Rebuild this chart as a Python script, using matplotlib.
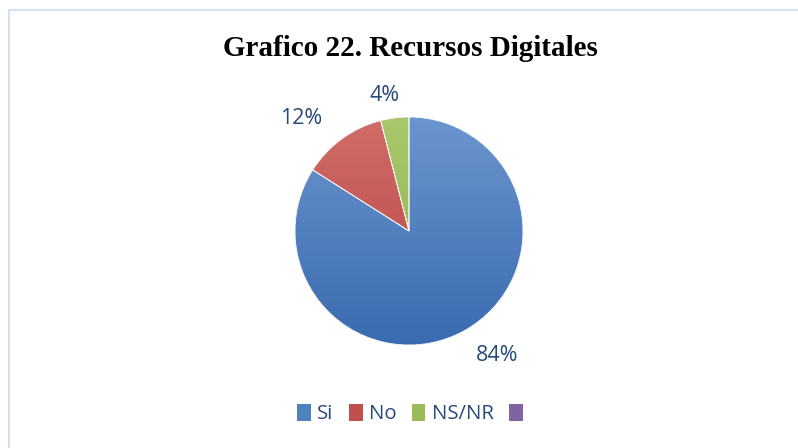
import numpy as np
import matplotlib
matplotlib.use("Agg")
import matplotlib.pyplot as plt
from matplotlib.colors import to_rgb
from matplotlib.patches import Rectangle, Patch, Wedge

# Data
categories = ["Si", "No", "NS/NR", ""]
percentages = [84, 12, 4, 0]
value_labels = ["84%", "12%", "4%"]

# Styling
base_colors = ["#4f81bd", "#c0504d", "#9bbb59", "#8064a2"]
top_colors = ["#6b95ce", "#d06d6a", "#a9c86d", "#9580b6"]
bottom_colors = ["#3a6bb0", "#b8423f", "#8fb04c", "#72569a"]
label_color = "#264a7a"
label_pos = [(0.77, -1.09), (-0.95, 0.99), (-0.21, 1.19)]

W, H, DPI = 798, 448, 100
fig = plt.figure(figsize=(W / DPI, H / DPI), dpi=DPI)
fig.patch.set_facecolor("white")

# chart-area frame
frame = Rectangle((8.5 / W, -0.1), 1.2, 1 - 10.5 / H + 0.1, transform=fig.transFigure,
                  fill=False, edgecolor="#d5e1f0", linewidth=1.5)
fig.add_artist(frame)

fig.text(410 / W, 1 - 49 / H, "Grafico 22. Recursos Digitales",
         ha="center", va="center", fontsize=21, fontweight="bold",
         family="Liberation Serif", color="black")

cx, cy, r = 409, 231, 114
ax = fig.add_axes([(cx - r) / W, (H - cy - r) / H, 2 * r / W, 2 * r / H])
ax.set_aspect("equal")
ax.axis("off")

vals = percentages[:3]
wedges, _ = ax.pie(vals, colors=base_colors[:3], startangle=90, counterclock=False,
                   radius=1, wedgeprops=dict(linewidth=0))
ax.set_xlim(-1, 1)
ax.set_ylim(-1, 1)

# vertical gradient fill for each slice
t = np.linspace(0, 1, 256)[:, None]
for w, c_top, c_bot in zip(wedges, top_colors, bottom_colors):
    a = np.array(to_rgb(c_top))
    b = np.array(to_rgb(c_bot))
    grad = (a[None, None, :] * (1 - t[:, :, None]) + b[None, None, :] * t[:, :, None])
    grad = np.repeat(grad, 2, axis=1)
    im = ax.imshow(grad, extent=(-1, 1, -1, 1), origin="upper", zorder=w.get_zorder() + 0.1,
                   interpolation="bilinear", aspect="auto")
    im.set_clip_path(w)

# slice edges over the gradients
for w in wedges:
    ax.add_patch(Wedge(w.center, w.r, w.theta1, w.theta2, facecolor="none",
                       edgecolor="white", linewidth=0.6, zorder=5))

for txt, (x, y) in zip(value_labels, label_pos):
    ax.text(x, y, txt, ha="center", va="center", fontsize=15.5, family="Open Sans",
            color=label_color)

handles = [Patch(facecolor=c, edgecolor="none") for c in base_colors]
leg = fig.legend(handles, categories, loc="center", bbox_to_anchor=(413 / W, 1 - 414 / H),
                 ncol=4, frameon=False, handlelength=0.68, handleheight=0.95,
                 handletextpad=0.3, columnspacing=0.75,
                 prop=dict(family="Open Sans", size=14.7))
for t_ in leg.get_texts():
    t_.set_color(label_color)

fig.savefig("out.png", dpi=DPI)
